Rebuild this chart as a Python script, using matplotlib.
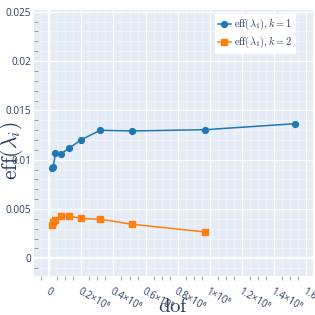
import matplotlib
matplotlib.use("Agg")
import matplotlib.pyplot as plt
from matplotlib.ticker import FixedLocator, MultipleLocator

plt.rcParams['mathtext.fontset'] = 'cm'

dof = [0.0187e6, 0.025e6, 0.0374e6, 0.071e6, 0.123e6, 0.200e6, 0.318e6, 0.514e6, 0.972e6, 1.535e6]
eff_k1 = [0.00913, 0.00929, 0.01065, 0.01058, 0.01116, 0.01203, 0.01298, 0.01291, 0.01304, 0.01365]
dof_k2 = [0.0187e6, 0.025e6, 0.0374e6, 0.071e6, 0.123e6, 0.200e6, 0.318e6, 0.514e6, 0.972e6]
eff_k2 = [0.00338, 0.00368, 0.00385, 0.00429, 0.00427, 0.00404, 0.00396, 0.00345, 0.00267]

xticks = [0, 0.2e6, 0.4e6, 0.6e6, 0.8e6, 1.0e6, 1.2e6, 1.4e6, 1.6e6]
xticklabels = ["0", "0.2×10⁶", "0.4×10⁶", "0.6×10⁶", "0.8×10⁶", "1×10⁶", "1.2×10⁶", "1.4×10⁶", "1.6×10⁶"]
yticks = [0, 0.005, 0.01, 0.015, 0.02, 0.025]
yticklabels = ["0", "0.005", "0.01", "0.015", "0.02", "0.025"]

labels = [r"$\mathrm{eff}(\lambda_1), k = 1$", r"$\mathrm{eff}(\lambda_1), k = 2$"]

BG = '#E5ECF6'
TXT = '#2a3f5f'
TICK = '#8a96a8'

fig = plt.figure(figsize=(3.15, 3.15), dpi=100)
L, R, T, B = 34, 313, 10, 276
ax = fig.add_axes([L/315, (315-B)/315, (R-L)/315, (B-T)/315])
ax.set_facecolor(BG)
for s in ax.spines.values():
    s.set_visible(False)

ax.set_xlim(-0.096e6, 1.645e6)
ax.set_ylim(-0.0018, 0.02518)

ax.xaxis.set_major_locator(FixedLocator(xticks))
ax.xaxis.set_minor_locator(MultipleLocator(0.05e6))
ax.yaxis.set_major_locator(FixedLocator(yticks))
ax.yaxis.set_minor_locator(MultipleLocator(0.001))

ax.grid(which='major', color='white', linewidth=0.9, zorder=0)
ax.grid(which='minor', color='#F0F4FA', linewidth=0.6, zorder=0)
ax.set_axisbelow(True)
ax.axhline(0, color='white', linewidth=1.6, zorder=1)
ax.axvline(0, color='white', linewidth=1.6, zorder=1)

ax.plot(dof, eff_k1, color='#1f77b4', marker='o', markersize=4.2, linewidth=1.1, label=labels[0], zorder=3)
ax.plot(dof_k2, eff_k2, color='#ff7f0e', marker='s', markersize=4.2, linewidth=1.1, label=labels[1], zorder=3)

ax.set_xticklabels(xticklabels, rotation=-30, ha='left', va='top', rotation_mode='anchor',
                   fontsize=7, color=TXT, family=['Open Sans', 'DejaVu Sans'])
ax.set_yticklabels(yticklabels, fontsize=7.2, color=TXT, family=['Open Sans', 'DejaVu Sans'])
ax.tick_params(axis='x', which='major', length=0, pad=7)
ax.tick_params(axis='x', which='minor', length=3, width=0.6, color=TICK, direction='out')
ax.tick_params(axis='y', which='major', length=0, pad=2)
ax.tick_params(axis='y', which='minor', length=3, width=0.6, color=TICK, direction='in')

ax.set_xlabel(r"$\mathrm{dof}$", fontsize=15, color=TXT)
ax.xaxis.set_label_coords((174-L)/(R-L), -(296-B)/(B-T))
ax.set_ylabel(r"$\mathrm{eff}(\lambda_i)$", fontsize=15.5, color=TXT)
ax.yaxis.set_label_coords(-(L-25)/(R-L), (B-151)/(B-T))

leg = ax.legend(loc='upper left', bbox_to_anchor=((215-L)/(R-L), 1-(14-T)/(B-T)),
                fontsize=7.5, frameon=True, fancybox=False, borderpad=0.3,
                handlelength=1.2, handletextpad=0.3, labelspacing=0.25, borderaxespad=0)
leg.get_frame().set_facecolor('white')
leg.get_frame().set_edgecolor('white')
leg.get_frame().set_alpha(1)
for t in leg.get_texts():
    t.set_color(TXT)

fig.savefig('out.png', dpi=100)
